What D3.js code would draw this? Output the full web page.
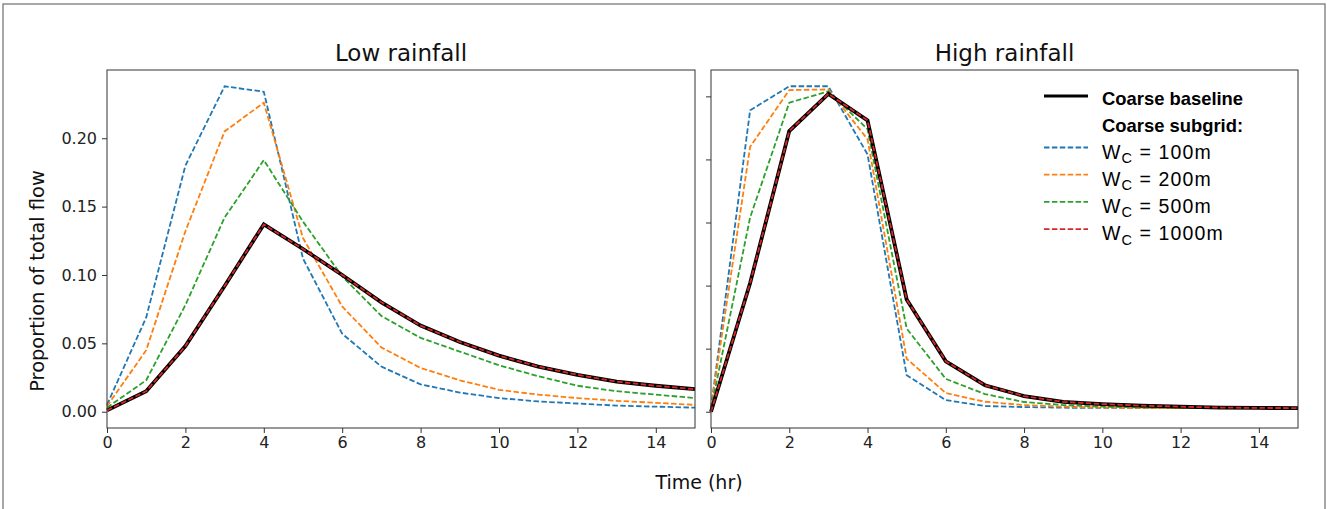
<!DOCTYPE html>
<html>
<head>
<meta charset="utf-8">
<script src="https://cdn.jsdelivr.net/npm/d3@7"></script>
<style>
  html, body { margin: 0; padding: 0; background: #fff; }
  svg { display: block; }
</style>
</head>
<body>
<svg id="chart" width="1327" height="509"></svg>
<script>
// ---------------- data ----------------
const hours = d3.range(0, 16);

// Low rainfall
const lowBaseline = [0.001, 0.015, 0.048, 0.092, 0.137, 0.119, 0.100, 0.080, 0.063, 0.051, 0.041, 0.033, 0.027, 0.022, 0.019, 0.0165];
const lowW100     = [0.005, 0.069, 0.180, 0.238, 0.234, 0.112, 0.057, 0.033, 0.020, 0.014, 0.010, 0.0075, 0.006, 0.0045, 0.0037, 0.003];
const lowW200     = [0.004, 0.045, 0.132, 0.205, 0.226, 0.127, 0.077, 0.047, 0.032, 0.023, 0.016, 0.0125, 0.010, 0.008, 0.0065, 0.005];
const lowW500     = [0.003, 0.023, 0.078, 0.142, 0.184, 0.139, 0.099, 0.070, 0.054, 0.044, 0.034, 0.026, 0.019, 0.015, 0.0125, 0.010];
const lowW1000    = [0.001, 0.015, 0.048, 0.092, 0.137, 0.119, 0.100, 0.080, 0.063, 0.051, 0.041, 0.033, 0.027, 0.022, 0.019, 0.0165];

// High rainfall
const highBaseline = [0.000, 0.102, 0.2225, 0.252, 0.231, 0.089, 0.040, 0.021, 0.0124, 0.0078, 0.0061, 0.0048, 0.004, 0.0033, 0.003, 0.0029];
const highW100     = [0.003, 0.239, 0.258, 0.258, 0.204, 0.029, 0.0092, 0.0045, 0.0037, 0.0032, 0.003, 0.003, 0.0029, 0.0028, 0.0028, 0.0028];
const highW200     = [0.003, 0.210, 0.255, 0.2555, 0.216, 0.042, 0.0148, 0.0079, 0.0053, 0.004, 0.0033, 0.003, 0.0029, 0.0028, 0.0028, 0.0028];
const highW500     = [0.002, 0.154, 0.245, 0.254, 0.224, 0.066, 0.026, 0.014, 0.0077, 0.0053, 0.004, 0.0034, 0.003, 0.0029, 0.0028, 0.0028];
const highW1000    = [0.000, 0.102, 0.2225, 0.252, 0.231, 0.089, 0.040, 0.021, 0.0124, 0.0078, 0.0061, 0.0048, 0.004, 0.0033, 0.003, 0.0029];

const xTicks = [0, 2, 4, 6, 8, 10, 12, 14];
const yTicks = [0.00, 0.05, 0.10, 0.15, 0.20, 0.25];
const panelTitles = ["Low rainfall", "High rainfall"];
const subgridLabels = ["100m", "200m", "500m", "1000m"];
const subgridColors = ["#1f77b4", "#ff7f0e", "#2ca02c", "#d62728"];
const baselineLabel = "Coarse baseline";
const subgridHeader = "Coarse subgrid:";

// ---------------- layout ----------------
const svg = d3.select("#chart");
const font = "DejaVu Sans, sans-serif";
const panelTop = 70, panelBottom = 428;
const panels = [
  { x0: 107, x1: 695, title: panelTitles[0], base: lowBaseline, subs: [lowW100, lowW200, lowW500, lowW1000], labels: true },
  { x0: 711, x1: 1298, title: panelTitles[1], base: highBaseline, subs: [highW100, highW200, highW500, highW1000], labels: false }
];

// outer frame
svg.append("path")
  .attr("d", "M3,509 L3,4 L1325,4 L1325,509")
  .attr("fill", "none").attr("stroke", "#8a8a8a").attr("stroke-width", 1.5);

panels.forEach(p => {
  const all = [p.base, ...p.subs].flat();
  const mx = d3.max(all), mn = 0;
  const pad = (mx - mn) * 0.05;
  const x = d3.scaleLinear().domain([0, 15]).range([p.x0, p.x1]);
  const y = d3.scaleLinear().domain([mn - pad, mx + pad]).range([panelBottom, panelTop]);
  const g = svg.append("g");

  // axes
  const xa = g.append("g").attr("transform", `translate(0,${panelBottom})`)
    .call(d3.axisBottom(x).tickValues(xTicks).tickSize(5).tickPadding(4).tickFormat(d3.format("d")));
  const ya = g.append("g").attr("transform", `translate(${p.x0},0)`)
    .call(d3.axisLeft(y).tickValues(yTicks.filter(v => v <= mx + pad)).tickSize(5).tickPadding(5)
      .tickFormat(p.labels ? d3.format(".2f") : () => ""));
  [xa, ya].forEach(a => {
    a.select(".domain").remove();
    a.selectAll("line").attr("stroke", "#333").attr("stroke-width", 1);
    a.selectAll("text").attr("font-family", font).attr("font-size", 16).attr("fill", "#222");
  });

  // lines
  const line = d3.line().x((d, i) => x(hours[i])).y(d => y(d));
  p.subs.slice(0, 3).forEach((s, k) => {
    g.append("path").datum(s).attr("d", line).attr("fill", "none")
      .attr("stroke", subgridColors[k]).attr("stroke-width", 1.8)
      .attr("stroke-dasharray", "5.5,2.4");
  });
  g.append("path").datum(p.base).attr("d", line).attr("fill", "none")
    .attr("stroke", "#000").attr("stroke-width", 3.8).attr("stroke-linejoin", "miter");
  g.append("path").datum(p.subs[3]).attr("d", line).attr("fill", "none")
    .attr("stroke", subgridColors[3]).attr("stroke-width", 1.8)
    .attr("stroke-dasharray", "5.5,2.4");

  // frame
  g.append("rect").attr("x", p.x0).attr("y", panelTop)
    .attr("width", p.x1 - p.x0).attr("height", panelBottom - panelTop)
    .attr("fill", "none").attr("stroke", "#333").attr("stroke-width", 1);

  // title
  g.append("text").attr("x", (p.x0 + p.x1) / 2).attr("y", 61)
    .attr("text-anchor", "middle").attr("font-family", font).attr("font-size", 23)
    .attr("fill", "#111").text(p.title);
});

// axis labels
svg.append("text").attr("x", 699).attr("y", 489).attr("text-anchor", "middle")
  .attr("font-family", font).attr("font-size", 19).attr("fill", "#111").text("Time (hr)");
svg.append("text").attr("transform", "translate(44,281) rotate(-90)").attr("text-anchor", "middle")
  .attr("font-family", font).attr("font-size", 19.4).attr("fill", "#111").text("Proportion of total flow");

// legend
const lg = svg.append("g");
const lfont = "Liberation Sans, Arial, sans-serif";
const lx0 = 1044, lx1 = 1088, tx = 1102;
lg.append("line").attr("x1", lx0).attr("x2", lx1).attr("y1", 96).attr("y2", 96)
  .attr("stroke", "#000").attr("stroke-width", 3);
lg.append("text").attr("x", tx).attr("y", 104.5).attr("font-family", lfont).attr("font-weight", "bold")
  .attr("font-size", 18.4).attr("fill", "#000").text(baselineLabel);
lg.append("text").attr("x", tx).attr("y", 131.5).attr("font-family", lfont).attr("font-weight", "bold")
  .attr("font-size", 18.4).attr("fill", "#000").text(subgridHeader);
subgridLabels.forEach((lab, k) => {
  const base = 158.5 + k * 27.2;
  lg.append("line").attr("x1", lx0).attr("x2", lx1).attr("y1", base - 11).attr("y2", base - 11)
    .attr("stroke", subgridColors[k]).attr("stroke-width", 1.8).attr("stroke-dasharray", "5.5,2.4");
  const t = lg.append("text").attr("x", tx).attr("y", base).attr("font-family", lfont)
    .attr("font-size", 19.5).attr("letter-spacing", 1.1).attr("fill", "#000");
  t.append("tspan").text("W");
  t.append("tspan").attr("font-size", 14.5).attr("dy", 4.5).text("C");
  t.append("tspan").attr("dy", -4.5).text(" = " + lab);
});
</script>
</body>
</html>
